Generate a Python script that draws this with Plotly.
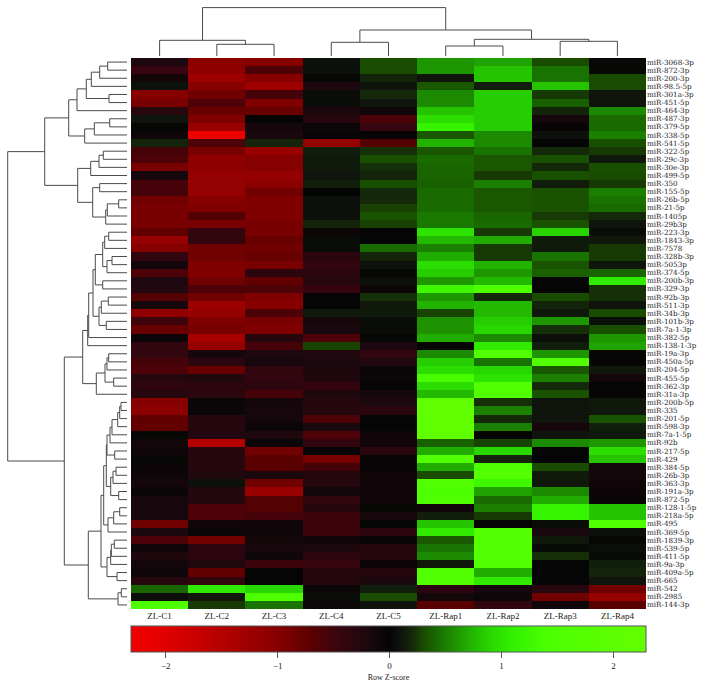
import plotly.graph_objects as go

W, H = 703, 688

columns = ["ZL-C1", "ZL-C2", "ZL-C3", "ZL-C4", "ZL-C5", "ZL-Rap1", "ZL-Rap2", "ZL-Rap3", "ZL-Rap4"]

rows = ["miR-3068-3p", "miR-872-3p", "miR-200-3p", "miR-98.5-5p", "miR-301a-3p", "miR-451-5p", "miR-464-3p",
        "miR-487-3p", "miR-379-5p", "miR-338-5p", "miR-541-5p", "miR-322-5p", "miR-29c-3p", "miR-30e-3p",
        "miR-499-5p", "miR-350", "miR-155-5p", "miR-26b-5p", "miR-21-5p", "miR-1405p", "miR-29b3p", "miR-223-3p",
        "miR-1843-3p", "miR-7578", "miR-328b-3p", "miR-5053p", "miR-374-5p", "miR-200b-3p", "miR-329-3p",
        "miR-92b-3p", "miR-511-3p", "miR-34b-3p", "miR-101b-3p", "miR-7a-1-3p", "miR-382-5p", "miR-138-1-3p",
        "miR-19a-3p", "miR-450a-5p", "miR-204-5p", "miR-455-5p", "miR-362-3p", "miR-31a-3p", "miR-200b-5p",
        "miR-335", "miR-201-5p", "miR-598-3p", "miR-7a-1-5p", "miR-92b", "miR-217-5p", "miR-429", "miR-384-5p",
        "miR-26b-3p", "miR-363-3p", "miR-191a-3p", "miR-872-5p", "miR-128-1-5p", "miR-218a-5p", "miR-495",
        "miR-369-5p", "miR-1839-3p", "miR-539-5p", "miR-411-5p", "miR-9a-3p", "miR-409a-5p", "miR-665", "miR-542",
        "miR-2985", "miR-144-3p"]

zscores = [
    [-0.2, -1.05, -1.0, 0.08, 0.3, 0.6, 0.65, 0.3, 0.03],
    [-0.45, -1.1, -0.6, 0.08, 0.3, 0.6, 0.8, 0.45, 0.03],
    [-0.12, -1.25, -1.0, 0.02, 0.18, 0.1, 0.8, 0.45, 0.3],
    [0.08, -1.0, -1.25, -0.2, 0.1, 0.35, 0.15, 0.8, 0.3],
    [-1.0, -0.85, -0.55, 0.05, 0.2, 0.55, 0.85, 0.25, 0.1],
    [-0.9, -0.6, -0.95, 0.05, 0.1, 0.55, 0.85, 0.38, 0.1],
    [-0.3, -0.8, -0.8, -0.2, -0.1, 0.8, 0.85, 0.18, 0.55],
    [0.1, -0.95, 0.0, -0.3, -0.6, 0.95, 0.85, -0.15, 0.42],
    [0.02, -1.2, -0.15, -0.07, -0.45, 1.15, 0.85, -0.02, 0.42],
    [-0.08, -2.25, -0.17, -0.03, -0.02, 0.35, 0.55, 0.08, 0.5],
    [0.18, -0.6, 0.18, -1.15, -0.65, 0.72, 0.55, 0.0, 0.32],
    [-0.55, -0.9, -1.2, 0.15, 0.22, 0.35, 0.45, 0.2, 0.25],
    [-0.6, -1.1, -1.0, 0.13, 0.32, 0.42, 0.35, 0.32, 0.12],
    [-0.9, -1.05, -1.0, 0.13, 0.22, 0.4, 0.35, 0.2, 0.32],
    [-0.15, -1.15, -1.15, 0.1, 0.18, 0.4, 0.25, 0.32, 0.3],
    [-0.55, -1.15, -1.05, 0.15, 0.32, 0.38, 0.5, 0.14, 0.25],
    [-0.55, -1.15, -0.85, 0.0, 0.2, 0.42, 0.35, 0.33, 0.5],
    [-0.85, -1.0, -0.95, 0.08, 0.2, 0.42, 0.35, 0.33, 0.45],
    [-0.9, -0.95, -0.95, 0.07, 0.27, 0.42, 0.35, 0.33, 0.42],
    [-0.9, -0.65, -0.95, 0.08, 0.33, 0.48, 0.4, 0.25, 0.2],
    [-0.9, -0.9, -0.9, 0.18, 0.27, 0.48, 0.42, 0.33, 0.1],
    [-0.75, -0.4, -0.9, -0.08, 0.0, 1.0, 0.25, 0.88, 0.05],
    [-1.15, -0.4, -0.8, 0.05, 0.0, 0.75, 0.7, 0.13, 0.12],
    [-1.0, -0.85, -0.85, 0.05, 0.42, 0.5, 0.25, 0.13, 0.25],
    [-0.4, -0.85, -0.8, -0.35, 0.18, 0.7, 0.25, 0.45, 0.25],
    [-0.13, -0.95, -0.9, -0.4, 0.08, 0.95, 0.72, 0.33, 0.1],
    [-0.6, -0.95, -0.35, -0.35, 0.02, 0.85, 0.6, 0.38, 0.4],
    [-0.2, -0.85, -0.75, -0.3, 0.07, 0.6, 0.75, 0.0, 1.05],
    [-0.25, -0.6, -0.6, -0.45, -0.08, 1.25, 1.5, 0.0, 0.22],
    [-0.65, -0.85, -0.95, 0.0, 0.22, 0.6, 0.2, 0.3, 0.22],
    [-0.15, -1.25, -1.0, 0.0, 0.12, 0.72, 0.75, 0.18, 0.1],
    [-1.1, -1.15, -0.6, 0.13, 0.13, 0.28, 0.75, 0.12, 0.3],
    [-0.5, -0.95, -0.9, -0.12, 0.05, 0.58, 0.85, 0.6, 0.07],
    [-0.8, -0.9, -0.95, -0.17, 0.05, 0.58, 0.9, 0.22, 0.32],
    [-0.07, -1.35, -0.3, -0.6, 0.02, 0.7, 0.55, 0.07, 0.6],
    [-0.4, -1.15, -0.55, 0.28, -0.2, 0.0, 1.05, 0.15, 0.65],
    [-0.4, -0.15, -0.2, -0.25, -0.4, 0.55, 1.6, 0.6, 0.0],
    [-0.55, -0.35, -0.15, -0.2, -0.25, 0.85, 0.45, 1.6, 0.0],
    [-0.6, -0.8, -0.4, -0.22, -0.05, 0.95, 0.9, 0.35, 0.12],
    [-0.3, -0.25, -0.4, -0.25, -0.05, 1.35, 1.0, 0.5, -0.12],
    [-0.38, -0.35, -0.35, -0.42, 0.0, 0.95, 1.6, 0.2, 0.0],
    [-0.28, -0.35, -0.55, -0.22, -0.15, 0.75, 1.6, 0.33, 0.0],
    [-1.0, -0.05, -0.12, -0.3, -0.2, 2.1, 0.22, 0.1, 0.12],
    [-1.05, -0.05, -0.15, -0.3, -0.35, 2.1, 0.5, 0.1, 0.12],
    [-0.75, -0.3, -0.15, -0.6, 0.0, 2.1, 0.2, 0.1, 0.33],
    [-0.75, -0.3, -0.07, -0.17, 0.0, 2.1, 0.5, -0.15, 0.15],
    [0.02, -0.25, -0.22, -0.6, -0.1, 2.1, 0.0, 0.1, 0.12],
    [-0.12, -1.5, -0.05, -0.4, -0.1, 0.38, 0.28, 0.55, 0.6],
    [-0.1, -0.3, -0.85, -0.03, -0.35, 0.7, 0.9, 0.0, 0.95],
    [0.02, -0.3, -0.7, -0.9, -0.02, 1.6, 0.18, 0.0, 0.8],
    [-0.06, -0.3, -0.7, -0.55, -0.02, 0.7, 1.5, 0.3, -0.13],
    [-0.06, -0.25, -0.18, -0.3, -0.1, 0.3, 1.7, 0.13, -0.13],
    [-0.15, 0.08, -0.85, -0.3, -0.1, 1.6, 1.25, 0.12, -0.1],
    [-0.05, -0.28, -1.2, -0.13, -0.1, 1.4, 0.65, 0.55, -0.06],
    [-0.15, -0.28, -0.65, -0.4, -0.1, 1.5, 0.42, 0.7, -0.02],
    [-0.15, -0.6, -0.65, -0.3, 0.03, -0.1, 0.5, 1.15, 0.8],
    [-0.15, -0.6, -0.55, -0.5, -0.15, 0.15, 0.25, 1.15, 0.8],
    [-0.85, -0.1, -0.1, -0.5, 0.0, 0.8, 0.0, 0.05, 1.5],
    [-0.2, -0.05, -0.08, -0.5, -0.35, 1.05, 1.7, -0.17, 0.07],
    [-0.6, -0.85, -0.12, -0.1, -0.03, 0.35, 1.7, 0.12, 0.02],
    [-0.1, -0.35, -0.15, -0.2, -0.3, 0.45, 1.7, 0.04, 0.06],
    [-0.22, -0.35, -0.08, -0.35, -0.3, 0.55, 1.7, 0.22, 0.04],
    [-0.13, -0.25, -0.5, -0.45, -0.07, 0.12, 1.6, 0.0, 0.15],
    [-0.08, -0.75, 0.0, -0.3, -0.3, 1.6, 0.7, -0.01, 0.18],
    [-0.3, -0.4, 0.0, -0.3, -0.17, 1.6, 1.05, -0.01, 0.1],
    [0.4, 1.05, 0.9, -0.07, 0.15, -0.35, -0.15, -0.3, -0.85],
    [0.06, 0.12, 1.5, 0.05, 0.3, -0.12, -0.08, -0.85, -1.15],
    [1.5, 0.25, 0.45, -0.05, 0.1, -0.7, -0.4, -0.08, -0.7],
]

# Dendrograms: (merge height, left branch, right branch); an int is a leaf index.
column_tree = (48.4,
               (15.7, 0, (11.7, 1, 2)),
               (26.0, (13.7, 3, 4),
                (16.7, (10.0, 5, 6), (14.7, 7, 8))))

rows_a = (50.0, (40.7, (35.7, (27.3, (19.3, 0, 1), 2), 3), (18.0, 4, 5)), 6)
rows_b = (42.3, (32.7, (17.3, 7, 8), 9), 10)
rows_c = (49.3, (36.3, (28.0, (23.7, 11, 12), 13), 14),
          (34.3, (27.3, 15, 16), (21.3, (19.7, (8.3, 17, 18), 19), 20)))
rows_e1 = (34.0, (31.7, (24.3, (22.3, (18.3, 21, 22), 23), (20.0, (15.0, 24, 25), 26)), (24.3, 27, 28)),
           (28.0, (25.7, (18.7, 29, 30), 31), (20.7, 32, 33)))
rows_e = (44.3, (39.3, (38.3, rows_e1, 34), 35),
          (30.7, (22.0, (20.0, (18.3, 36, 37), 38), (13.3, 39, 40)), 41))
rows_j = (20.0, (17.0, (15.0, (9.3, (7.3, (6.0, 42, 43), 44), 45), 46), 47), (12.3, 48, 49))
rows_k = (16.3, (14.0, (11.0, 50, 51), 52), (8.3, 53, 54))
rows_l = (19.0, (13.3, (7.3, 55, 56), 57), 58)
rows_m = (20.0, (16.3, (15.7, (12.7, 59, 60), 61), 62), (10.0, 63, 64))
rows_h = (26.0, (23.3, (20.7, rows_j, rows_k), rows_l), rows_m)
rows_i = (9.0, (5.7, 65, 66), 67)
row_tree = (119.3,
            (82.3, (58.3, (rows_a), (rows_b)), rows_c),
            (62.7, rows_e, (38.7, rows_h, rows_i)))

colorscale_stops = [-2.31, -2, -1, -0.7, -0.45, -0.2, 0, 0.1, 0.2, 0.3, 0.45, 0.6, 0.75, 0.9, 1.1, 1.4, 2.29]
colorscale_cols = ["rgb(240,0,0)", "rgb(225,0,0)", "rgb(135,0,0)", "rgb(90,0,0)", "rgb(55,5,15)", "rgb(28,8,14)",
                   "rgb(5,5,5)", "rgb(15,20,12)", "rgb(20,40,10)", "rgb(25,75,0)", "rgb(25,115,0)", "rgb(30,150,0)",
                   "rgb(35,185,0)", "rgb(40,215,0)", "rgb(50,240,0)", "rgb(75,255,0)", "rgb(100,255,0)"]
zmin, zmax = -2.31, 2.29
colorbar_ticks = [-2, -1, 0, 1, 2]
colorbar_ticktext = ["\u22122", "\u22121", "0", "1", "2"]


def walk(node, segs):
    """Return (leaf position, height) of a node, adding its bracket to segs."""
    if isinstance(node, int):
        return node, 0.0
    h, left, right = node
    pl, hl = walk(left, segs)
    pr, hr = walk(right, segs)
    segs.append(((pl, hl), (pl, h), (pr, h), (pr, hr)))
    return (pl + pr) / 2, h


SERIF = "Liberation Serif"
LINE = "#4a4a4a"
TEXT = "#222222"

hm_left, hm_right, hm_top, hm_bottom = 131, 646, 58, 609

fig = go.Figure()

fig.add_trace(go.Heatmap(
    z=zscores, x=list(range(len(columns))), y=list(range(len(rows))),
    colorscale=[[(s - zmin) / (zmax - zmin), c] for s, c in zip(colorscale_stops, colorscale_cols)],
    zmin=zmin, zmax=zmax, hoverongaps=False,
    colorbar=dict(
        orientation="h", lenmode="pixels", len=hm_right - hm_left, thicknessmode="pixels", thickness=26,
        x=hm_left / W, xanchor="left", y=1 - 626 / H, yanchor="top", xpad=0, ypad=0,
        outlinecolor="#555555", outlinewidth=1,
        tickmode="array", tickvals=colorbar_ticks, ticktext=colorbar_ticktext,
        ticks="outside", ticklen=6, tickcolor="#555555", tickwidth=1,
        tickfont=dict(family=SERIF, size=9, color=TEXT),
        title=dict(text="Row Z-score", side="bottom", font=dict(family=SERIF, size=8, color=TEXT)),
    ),
))

segs_top = []
walk(column_tree, segs_top)
xs, ys = [], []
for s in segs_top:
    xs += [p[0] for p in s] + [None]
    ys += [p[1] for p in s] + [None]
fig.add_trace(go.Scatter(x=xs, y=ys, mode="lines", xaxis="x2", yaxis="y2",
                         line=dict(color=LINE, width=1), hoverinfo="skip", showlegend=False))

segs_left = []
walk(row_tree, segs_left)
xs, ys = [], []
for s in segs_left:
    xs += [p[1] for p in s] + [None]
    ys += [p[0] for p in s] + [None]
fig.add_trace(go.Scatter(x=xs, y=ys, mode="lines", xaxis="x3", yaxis="y3",
                         line=dict(color=LINE, width=1), hoverinfo="skip", showlegend=False))

x_range = [-0.5, len(columns) - 0.5]
y_range = [len(rows) - 0.5, -0.5]
fig.update_layout(
    width=W, height=H, autosize=False, margin=dict(l=0, r=0, t=0, b=0),
    paper_bgcolor="white", plot_bgcolor="white", showlegend=False,
    xaxis=dict(domain=[hm_left / W, hm_right / W], range=x_range, tickmode="array",
               tickvals=list(range(len(columns))), ticktext=columns, ticks="", showgrid=False, zeroline=False,
               tickfont=dict(family=SERIF, size=9, color=TEXT), ticklen=0),
    yaxis=dict(domain=[1 - hm_bottom / H, 1 - hm_top / H], range=y_range, side="right", tickmode="array",
               tickvals=list(range(len(rows))), ticktext=rows, ticks="", showgrid=False, zeroline=False,
               tickfont=dict(family="DejaVu Serif", size=7.2, color=TEXT), ticklen=0, automargin=False),
    xaxis2=dict(domain=[hm_left / W, hm_right / W], range=x_range, visible=False, anchor="y2"),
    yaxis2=dict(domain=[1 - 56 / H, 1], range=[0, 56], visible=False, anchor="x2"),
    xaxis3=dict(domain=[0, 127 / W], range=[127, 0], visible=False, anchor="y3"),
    yaxis3=dict(domain=[1 - hm_bottom / H, 1 - hm_top / H], range=y_range, visible=False, anchor="x3"),
)

fig.write_html("out.html", config={"displayModeBar": False},
               post_script="document.body.style.margin='0';document.documentElement.style.overflow='hidden';")
